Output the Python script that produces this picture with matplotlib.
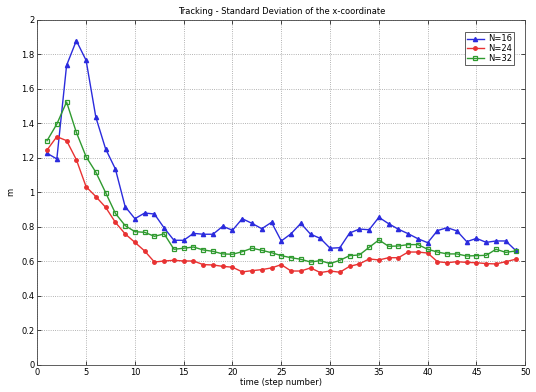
import matplotlib.pyplot as plt
import numpy as np

steps = np.arange(1, 50)

std_n16 = [1.226, 1.193, 1.735, 1.878, 1.764, 1.434, 1.251, 1.135, 0.917, 0.847,
           0.880, 0.874, 0.793, 0.722, 0.722, 0.762, 0.757, 0.757, 0.803, 0.780,
           0.847, 0.820, 0.789, 0.826, 0.718, 0.760, 0.820, 0.757, 0.733, 0.676,
           0.679, 0.764, 0.787, 0.783, 0.855, 0.818, 0.786, 0.760, 0.731, 0.708,
           0.778, 0.795, 0.776, 0.714, 0.733, 0.710, 0.718, 0.718, 0.664]
std_n24 = [1.245, 1.322, 1.299, 1.189, 1.032, 0.975, 0.913, 0.826, 0.759, 0.710,
           0.660, 0.596, 0.602, 0.606, 0.602, 0.602, 0.581, 0.579, 0.571, 0.566,
           0.539, 0.546, 0.552, 0.562, 0.581, 0.544, 0.544, 0.562, 0.535, 0.544,
           0.537, 0.571, 0.585, 0.614, 0.608, 0.621, 0.621, 0.654, 0.654, 0.648,
           0.598, 0.592, 0.598, 0.594, 0.592, 0.587, 0.585, 0.598, 0.612]
std_n32 = [1.299, 1.395, 1.523, 1.347, 1.206, 1.116, 0.998, 0.878, 0.807, 0.772,
           0.768, 0.745, 0.759, 0.670, 0.676, 0.683, 0.666, 0.658, 0.643, 0.641,
           0.656, 0.676, 0.664, 0.650, 0.633, 0.621, 0.612, 0.596, 0.604, 0.587,
           0.606, 0.633, 0.637, 0.681, 0.724, 0.687, 0.689, 0.697, 0.697, 0.670,
           0.654, 0.643, 0.643, 0.631, 0.633, 0.635, 0.670, 0.652, 0.660]

fig = plt.figure(figsize=(5.36, 3.92), dpi=100)
ax = fig.add_axes([0.0696, 0.069, 0.9104, 0.881])

ax.plot(steps, std_n16, color='#2b2bdd', marker='^', markersize=3, linewidth=1, label='N=16')
ax.plot(steps, std_n24, color='#e83232', marker='o', markersize=2.5, linewidth=1, label='N=24')
ax.plot(steps, std_n32, color='#2f9a2f', marker='s', markersize=3, markerfacecolor='none',
        markeredgewidth=0.9, linewidth=1, label='N=32')

ax.set_xlim(0, 50)
ax.set_ylim(0, 2)
ax.set_xticks(np.arange(0, 51, 5))
ax.set_yticks(np.arange(0, 2.01, 0.2))
ax.set_yticklabels(['0', '0.2', '0.4', '0.6', '0.8', '1', '1.2', '1.4', '1.6', '1.8', '2'])
ax.tick_params(direction='in', labelsize=6, length=3, width=0.5, pad=2, top=True, right=True)
ax.grid(True, linestyle=':', color='#9a9a9a', linewidth=0.6)
for s in ax.spines.values():
    s.set_linewidth(0.6)
    s.set_color('#444444')

ax.set_title('Tracking - Standard Deviation of the x-coordinate', fontsize=6, pad=4)
ax.set_xlabel('time (step number)', fontsize=6, labelpad=1)
ax.set_ylabel('m', fontsize=6, labelpad=4)

leg = ax.legend(loc='upper right', bbox_to_anchor=(0.985, 0.975), fontsize=6,
                handlelength=2.0, borderpad=0.25, labelspacing=0.1, handletextpad=0.5,
                fancybox=False, framealpha=1, edgecolor='#444444')
leg.get_frame().set_linewidth(0.6)

plt.savefig('out.png', dpi=100)
